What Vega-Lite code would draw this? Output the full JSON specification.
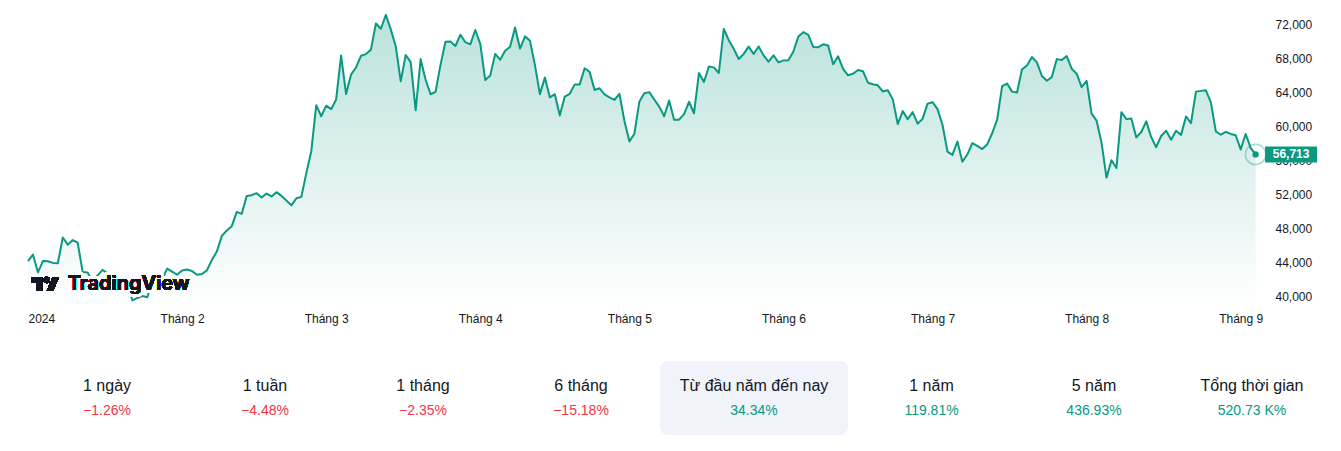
{
  "$schema": "https://vega.github.io/schema/vega-lite/v6.json",
  "background": "white",
  "padding": {"left": 27, "top": 0, "right": 0, "bottom": 0},
  "config": {
    "view": {"stroke": null},
    "font": "Liberation Sans",
    "concat": {"spacing": 0}
  },
  "datasets": {
    "prices": [
      {"date":"2024-01-01","price":44180},{"date":"2024-01-02","price":44950},{"date":"2024-01-03","price":42850},{"date":"2024-01-04","price":44180},{"date":"2024-01-05","price":44160},{"date":"2024-01-06","price":43970},{"date":"2024-01-07","price":43930},{"date":"2024-01-08","price":46950},{"date":"2024-01-09","price":46110},{"date":"2024-01-10","price":46650},{"date":"2024-01-11","price":46340},{"date":"2024-01-12","price":42890},{"date":"2024-01-13","price":42850},{"date":"2024-01-14","price":41730},{"date":"2024-01-15","price":42510},{"date":"2024-01-16","price":43150},{"date":"2024-01-17","price":42740},{"date":"2024-01-18","price":41270},{"date":"2024-01-19","price":41620},{"date":"2024-01-20","price":41660},{"date":"2024-01-21","price":41580},{"date":"2024-01-22","price":39560},{"date":"2024-01-23","price":39850},{"date":"2024-01-24","price":40080},{"date":"2024-01-25","price":39930},{"date":"2024-01-26","price":41820},{"date":"2024-01-27","price":42120},{"date":"2024-01-28","price":42030},{"date":"2024-01-29","price":43300},{"date":"2024-01-30","price":42940},{"date":"2024-01-31","price":42580},
      {"date":"2024-02-01","price":43080},{"date":"2024-02-02","price":43200},{"date":"2024-02-03","price":43010},{"date":"2024-02-04","price":42580},{"date":"2024-02-05","price":42660},{"date":"2024-02-06","price":43090},{"date":"2024-02-07","price":44330},{"date":"2024-02-08","price":45300},{"date":"2024-02-09","price":47150},{"date":"2024-02-10","price":47770},{"date":"2024-02-11","price":48290},{"date":"2024-02-12","price":49960},{"date":"2024-02-13","price":49730},{"date":"2024-02-14","price":51830},{"date":"2024-02-15","price":51930},{"date":"2024-02-16","price":52160},{"date":"2024-02-17","price":51660},{"date":"2024-02-18","price":52120},{"date":"2024-02-19","price":51780},{"date":"2024-02-20","price":52280},{"date":"2024-02-21","price":51840},{"date":"2024-02-22","price":51310},{"date":"2024-02-23","price":50730},{"date":"2024-02-24","price":51570},{"date":"2024-02-25","price":51730},{"date":"2024-02-26","price":54520},{"date":"2024-02-27","price":57090},{"date":"2024-02-28","price":62500},{"date":"2024-02-29","price":61200},
      {"date":"2024-03-01","price":62440},{"date":"2024-03-02","price":62030},{"date":"2024-03-03","price":63170},{"date":"2024-03-04","price":68330},{"date":"2024-03-05","price":63800},{"date":"2024-03-06","price":66100},{"date":"2024-03-07","price":66930},{"date":"2024-03-08","price":68300},{"date":"2024-03-09","price":68500},{"date":"2024-03-10","price":69020},{"date":"2024-03-11","price":72100},{"date":"2024-03-12","price":71480},{"date":"2024-03-13","price":73100},{"date":"2024-03-14","price":71400},{"date":"2024-03-15","price":69400},{"date":"2024-03-16","price":65300},{"date":"2024-03-17","price":68390},{"date":"2024-03-18","price":67550},{"date":"2024-03-19","price":61900},{"date":"2024-03-20","price":67910},{"date":"2024-03-21","price":65490},{"date":"2024-03-22","price":63780},{"date":"2024-03-23","price":64060},{"date":"2024-03-24","price":67230},{"date":"2024-03-25","price":69960},{"date":"2024-03-26","price":69980},{"date":"2024-03-27","price":69450},{"date":"2024-03-28","price":70780},{"date":"2024-03-29","price":69900},{"date":"2024-03-30","price":69650},{"date":"2024-03-31","price":71330},
      {"date":"2024-04-01","price":69700},{"date":"2024-04-02","price":65450},{"date":"2024-04-03","price":65980},{"date":"2024-04-04","price":68520},{"date":"2024-04-05","price":67840},{"date":"2024-04-06","price":68900},{"date":"2024-04-07","price":69360},{"date":"2024-04-08","price":71620},{"date":"2024-04-09","price":69150},{"date":"2024-04-10","price":70590},{"date":"2024-04-11","price":70060},{"date":"2024-04-12","price":67200},{"date":"2024-04-13","price":63800},{"date":"2024-04-14","price":65740},{"date":"2024-04-15","price":63420},{"date":"2024-04-16","price":63790},{"date":"2024-04-17","price":61280},{"date":"2024-04-18","price":63510},{"date":"2024-04-19","price":63840},{"date":"2024-04-20","price":64940},{"date":"2024-04-21","price":64940},{"date":"2024-04-22","price":66840},{"date":"2024-04-23","price":66410},{"date":"2024-04-24","price":64280},{"date":"2024-04-25","price":64480},{"date":"2024-04-26","price":63760},{"date":"2024-04-27","price":63420},{"date":"2024-04-28","price":63110},{"date":"2024-04-29","price":63840},{"date":"2024-04-30","price":60640},
      {"date":"2024-05-01","price":58250},{"date":"2024-05-02","price":59120},{"date":"2024-05-03","price":62890},{"date":"2024-05-04","price":63890},{"date":"2024-05-05","price":64030},{"date":"2024-05-06","price":63160},{"date":"2024-05-07","price":62330},{"date":"2024-05-08","price":61190},{"date":"2024-05-09","price":63050},{"date":"2024-05-10","price":60790},{"date":"2024-05-11","price":60800},{"date":"2024-05-12","price":61450},{"date":"2024-05-13","price":62900},{"date":"2024-05-14","price":61550},{"date":"2024-05-15","price":66270},{"date":"2024-05-16","price":65230},{"date":"2024-05-17","price":67050},{"date":"2024-05-18","price":66940},{"date":"2024-05-19","price":66280},{"date":"2024-05-20","price":71450},{"date":"2024-05-21","price":70140},{"date":"2024-05-22","price":69120},{"date":"2024-05-23","price":67930},{"date":"2024-05-24","price":68520},{"date":"2024-05-25","price":69380},{"date":"2024-05-26","price":68510},{"date":"2024-05-27","price":69400},{"date":"2024-05-28","price":68350},{"date":"2024-05-29","price":67600},{"date":"2024-05-30","price":68360},{"date":"2024-05-31","price":67530},
      {"date":"2024-06-01","price":67760},{"date":"2024-06-02","price":67790},{"date":"2024-06-03","price":68800},{"date":"2024-06-04","price":70570},{"date":"2024-06-05","price":71080},{"date":"2024-06-06","price":70760},{"date":"2024-06-07","price":69340},{"date":"2024-06-08","price":69310},{"date":"2024-06-09","price":69650},{"date":"2024-06-10","price":69500},{"date":"2024-06-11","price":67320},{"date":"2024-06-12","price":68240},{"date":"2024-06-13","price":66760},{"date":"2024-06-14","price":66010},{"date":"2024-06-15","price":66190},{"date":"2024-06-16","price":66640},{"date":"2024-06-17","price":66490},{"date":"2024-06-18","price":65140},{"date":"2024-06-19","price":64960},{"date":"2024-06-20","price":64830},{"date":"2024-06-21","price":64100},{"date":"2024-06-22","price":64250},{"date":"2024-06-23","price":63180},{"date":"2024-06-24","price":60280},{"date":"2024-06-25","price":61800},{"date":"2024-06-26","price":60840},{"date":"2024-06-27","price":61680},{"date":"2024-06-28","price":60320},{"date":"2024-06-29","price":60890},{"date":"2024-06-30","price":62680},
      {"date":"2024-07-01","price":62850},{"date":"2024-07-02","price":62030},{"date":"2024-07-03","price":60200},{"date":"2024-07-04","price":57050},{"date":"2024-07-05","price":56660},{"date":"2024-07-06","price":58230},{"date":"2024-07-07","price":55850},{"date":"2024-07-08","price":56700},{"date":"2024-07-09","price":58050},{"date":"2024-07-10","price":57720},{"date":"2024-07-11","price":57340},{"date":"2024-07-12","price":57890},{"date":"2024-07-13","price":59200},{"date":"2024-07-14","price":60800},{"date":"2024-07-15","price":64730},{"date":"2024-07-16","price":65040},{"date":"2024-07-17","price":64090},{"date":"2024-07-18","price":63990},{"date":"2024-07-19","price":66710},{"date":"2024-07-20","price":67160},{"date":"2024-07-21","price":68160},{"date":"2024-07-22","price":67530},{"date":"2024-07-23","price":65930},{"date":"2024-07-24","price":65370},{"date":"2024-07-25","price":65800},{"date":"2024-07-26","price":67910},{"date":"2024-07-27","price":67810},{"date":"2024-07-28","price":68260},{"date":"2024-07-29","price":66780},{"date":"2024-07-30","price":66200},{"date":"2024-07-31","price":64620},
      {"date":"2024-08-01","price":65350},{"date":"2024-08-02","price":61500},{"date":"2024-08-03","price":60680},{"date":"2024-08-04","price":58100},{"date":"2024-08-05","price":53990},{"date":"2024-08-06","price":56030},{"date":"2024-08-07","price":55120},{"date":"2024-08-08","price":61680},{"date":"2024-08-09","price":60860},{"date":"2024-08-10","price":60940},{"date":"2024-08-11","price":58710},{"date":"2024-08-12","price":59350},{"date":"2024-08-13","price":60600},{"date":"2024-08-14","price":58740},{"date":"2024-08-15","price":57560},{"date":"2024-08-16","price":58880},{"date":"2024-08-17","price":59490},{"date":"2024-08-18","price":58430},{"date":"2024-08-19","price":59490},{"date":"2024-08-20","price":59010},{"date":"2024-08-21","price":61180},{"date":"2024-08-22","price":60380},{"date":"2024-08-23","price":64090},{"date":"2024-08-24","price":64180},{"date":"2024-08-25","price":64250},{"date":"2024-08-26","price":62830},{"date":"2024-08-27","price":59420},{"date":"2024-08-28","price":59030},{"date":"2024-08-29","price":59370},{"date":"2024-08-30","price":59120},{"date":"2024-08-31","price":58970},
      {"date":"2024-09-01","price":57300},{"date":"2024-09-02","price":59110},{"date":"2024-09-03","price":57480},{"date":"2024-09-04","price":56713}
    ],
    "stats": [
      {"label":"1 ngày","change":"−1.26%","dir":"down"},
      {"label":"1 tuần","change":"−4.48%","dir":"down"},
      {"label":"1 tháng","change":"−2.35%","dir":"down"},
      {"label":"6 tháng","change":"−15.18%","dir":"down"},
      {"label":"Từ đầu năm đến nay","change":"34.34%","dir":"up"},
      {"label":"1 năm","change":"119.81%","dir":"up"},
      {"label":"5 năm","change":"436.93%","dir":"up"},
      {"label":"Tổng thời gian","change":"520.73 K%","dir":"up"}
    ]
  },
  "spacing": 37,
  "vconcat": [
    {
      "width": 1235,
      "height": 306,
      "data": {"name": "prices"},
      "encoding": {
        "x": {
          "field": "date", "type": "temporal",
          "scale": {"type": "utc", "domain": [1704067200000, 1725536760000]},
          "axis": {
            "values": [1704067200000,1706745600000,1709251200000,1711929600000,1714521600000,1717200000000,1719792000000,1722470400000,1725148800000],
            "labelExpr": "utcmonth(datum.value) == 0 ? '2024' : 'Tháng ' + (utcmonth(datum.value) + 1)",
            "title": null, "domain": false, "ticks": false, "tickSize": 0, "grid": false,
            "labelPadding": 7, "labelFontSize": 12, "labelColor": "#131722",
            "labelFont": "Liberation Sans", "labelFlush": true, "labelOverlap": false, "zindex": 0
          }
        },
        "y": {
          "field": "price", "type": "quantitative",
          "scale": {"domain": [38907, 74855], "zero": false, "nice": false},
          "axis": {
            "orient": "right",
            "values": [40000,44000,48000,52000,56000,60000,64000,68000,72000],
            "format": ",d", "title": null, "domain": false, "ticks": false, "tickSize": 0, "grid": false,
            "labelPadding": 12, "labelFontSize": 12, "labelColor": "#131722", "labelFont": "Liberation Sans",
            "labelAlign": "left", "labelBaseline": "middle", "zindex": 0
          }
        }
      },
      "layer": [
        {
          "mark": {
            "type": "area", "opacity": 1,
            "color": {"gradient": "linear", "x1": 0, "y1": 0, "x2": 0, "y2": 1,
              "stops": [{"offset": 0, "color": "#bae2dc"}, {"offset": 1, "color": "#ffffff"}]}
          },
          "encoding": {"y2": {"datum": 38907}}
        },
        {
          "mark": {"type": "line", "color": "#089981", "strokeWidth": 2, "strokeJoin": "round"}
        },
        {
          "mark": {
            "type": "point", "filled": true, "opacity": 1, "color": "#131722", "strokeWidth": 0, "size": 784,
            "shape": "M-0.2113,0.507H-0.6056V-0.1127H-1V-0.507H-0.2113Z M0.5775,0.507H0.1268L0.5493,-0.507H1L0.5775,0.507Z M-0.0986,-0.2817A0.2254,0.2254 0 1 0 0.3521,-0.2817A0.2254,0.2254 0 1 0 -0.0986,-0.2817Z"
          },
          "encoding": {
            "x": {"datum": 1704362700000, "type": "temporal"},
            "y": {"datum": 41492, "type": "quantitative"}
          }
        },
        {
          "mark": {"type": "text", "text": "TradingView", "font": "Inter", "fontSize": 20, "fontWeight": 600,
            "align": "left", "baseline": "alphabetic", "color": "white", "stroke": "white", "strokeWidth": 6, "strokeJoin": "round"},
          "encoding": {
            "x": {"datum": 1704757500000, "type": "temporal"},
            "y": {"datum": 40787, "type": "quantitative"}
          }
        },
        {
          "mark": {"type": "text", "text": "TradingView", "font": "Inter", "fontSize": 20, "fontWeight": 600,
            "align": "left", "baseline": "alphabetic", "color": "#131722"},
          "encoding": {
            "x": {"datum": 1704757500000, "type": "temporal"},
            "y": {"datum": 40787, "type": "quantitative"}
          }
        },
        {
          "transform": [{"filter": "datum.price == 56713"}],
          "layer": [
            {"mark": {"type": "point", "filled": false, "opacity": 1, "color": "#089981", "strokeOpacity": 0.35, "strokeWidth": 1.5, "size": 415}},
            {"mark": {"type": "point", "filled": true, "opacity": 1, "color": "#089981", "size": 40}},
            {
              "mark": {"type": "rect", "color": "#089981", "xOffset": 9.5, "x2Offset": 61.5, "yOffset": -8, "y2Offset": 8},
              "encoding": {"x2": {"field": "date"}, "y2": {"field": "price"}}
            },
            {
              "mark": {"type": "text", "color": "white", "fontWeight": "bold", "fontSize": 12, "align": "center", "baseline": "middle", "dx": 35.5, "font": "Liberation Sans"},
              "encoding": {"text": {"field": "price", "format": ",d"}}
            }
          ]
        }
      ]
    },
    {
      "spacing": 0,
      "hconcat": [
        {
          "width": 158, "height": 74, "data": {"name": "stats"},
          "transform": [{"filter": {"field": "label", "equal": "1 ngày"}}],
          "layer": [
            {"mark": {"type": "text", "fontSize": 16, "color": "#131722", "baseline": "alphabetic", "dy": -7}, "encoding": {"text": {"field": "label"}}},
            {"mark": {"type": "text", "fontSize": 14, "baseline": "alphabetic", "dy": 17}, "encoding": {"text": {"field": "change"}, "color": {"field": "dir", "type": "nominal", "scale": {"domain": ["down", "up"], "range": ["#F23645", "#089981"]}, "legend": null}}}
          ]
        },
        {
          "width": 158, "height": 74, "data": {"name": "stats"},
          "transform": [{"filter": {"field": "label", "equal": "1 tuần"}}],
          "layer": [
            {"mark": {"type": "text", "fontSize": 16, "color": "#131722", "baseline": "alphabetic", "dy": -7}, "encoding": {"text": {"field": "label"}}},
            {"mark": {"type": "text", "fontSize": 14, "baseline": "alphabetic", "dy": 17}, "encoding": {"text": {"field": "change"}, "color": {"field": "dir", "type": "nominal", "scale": {"domain": ["down", "up"], "range": ["#F23645", "#089981"]}, "legend": null}}}
          ]
        },
        {
          "width": 158, "height": 74, "data": {"name": "stats"},
          "transform": [{"filter": {"field": "label", "equal": "1 tháng"}}],
          "layer": [
            {"mark": {"type": "text", "fontSize": 16, "color": "#131722", "baseline": "alphabetic", "dy": -7}, "encoding": {"text": {"field": "label"}}},
            {"mark": {"type": "text", "fontSize": 14, "baseline": "alphabetic", "dy": 17}, "encoding": {"text": {"field": "change"}, "color": {"field": "dir", "type": "nominal", "scale": {"domain": ["down", "up"], "range": ["#F23645", "#089981"]}, "legend": null}}}
          ]
        },
        {
          "width": 158, "height": 74, "data": {"name": "stats"},
          "transform": [{"filter": {"field": "label", "equal": "6 tháng"}}],
          "layer": [
            {"mark": {"type": "text", "fontSize": 16, "color": "#131722", "baseline": "alphabetic", "dy": -7}, "encoding": {"text": {"field": "label"}}},
            {"mark": {"type": "text", "fontSize": 14, "baseline": "alphabetic", "dy": 17}, "encoding": {"text": {"field": "change"}, "color": {"field": "dir", "type": "nominal", "scale": {"domain": ["down", "up"], "range": ["#F23645", "#089981"]}, "legend": null}}}
          ]
        },
        {
          "width": 188, "height": 74, "data": {"name": "stats"},
          "view": {"fill": "#F0F3FA", "cornerRadius": 8, "stroke": null},
          "transform": [{"filter": {"field": "label", "equal": "Từ đầu năm đến nay"}}],
          "layer": [
            {"mark": {"type": "text", "fontSize": 16, "color": "#131722", "baseline": "alphabetic", "dy": -7}, "encoding": {"text": {"field": "label"}}},
            {"mark": {"type": "text", "fontSize": 14, "baseline": "alphabetic", "dy": 17}, "encoding": {"text": {"field": "change"}, "color": {"field": "dir", "type": "nominal", "scale": {"domain": ["down", "up"], "range": ["#F23645", "#089981"]}, "legend": null}}}
          ]
        },
        {
          "width": 167, "height": 74, "data": {"name": "stats"},
          "transform": [{"filter": {"field": "label", "equal": "1 năm"}}],
          "layer": [
            {"mark": {"type": "text", "fontSize": 16, "color": "#131722", "baseline": "alphabetic", "dy": -7}, "encoding": {"text": {"field": "label"}}},
            {"mark": {"type": "text", "fontSize": 14, "baseline": "alphabetic", "dy": 17}, "encoding": {"text": {"field": "change"}, "color": {"field": "dir", "type": "nominal", "scale": {"domain": ["down", "up"], "range": ["#F23645", "#089981"]}, "legend": null}}}
          ]
        },
        {
          "width": 158, "height": 74, "data": {"name": "stats"},
          "transform": [{"filter": {"field": "label", "equal": "5 năm"}}],
          "layer": [
            {"mark": {"type": "text", "fontSize": 16, "color": "#131722", "baseline": "alphabetic", "dy": -7}, "encoding": {"text": {"field": "label"}}},
            {"mark": {"type": "text", "fontSize": 14, "baseline": "alphabetic", "dy": 17}, "encoding": {"text": {"field": "change"}, "color": {"field": "dir", "type": "nominal", "scale": {"domain": ["down", "up"], "range": ["#F23645", "#089981"]}, "legend": null}}}
          ]
        },
        {
          "width": 158, "height": 74, "data": {"name": "stats"},
          "transform": [{"filter": {"field": "label", "equal": "Tổng thời gian"}}],
          "layer": [
            {"mark": {"type": "text", "fontSize": 16, "color": "#131722", "baseline": "alphabetic", "dy": -7}, "encoding": {"text": {"field": "label"}}},
            {"mark": {"type": "text", "fontSize": 14, "baseline": "alphabetic", "dy": 17}, "encoding": {"text": {"field": "change"}, "color": {"field": "dir", "type": "nominal", "scale": {"domain": ["down", "up"], "range": ["#F23645", "#089981"]}, "legend": null}}}
          ]
        }
      ]
    }
  ]
}
